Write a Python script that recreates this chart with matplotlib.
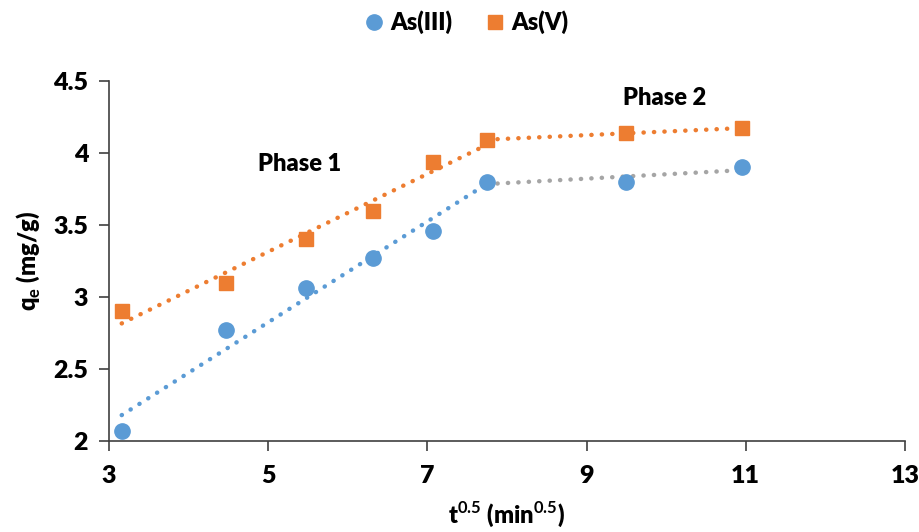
import matplotlib
matplotlib.use("Agg")
import matplotlib.pyplot as plt
import numpy as np

plt.rcParams['font.family'] = ['Lato', 'DejaVu Sans']
plt.rcParams['font.weight'] = 'bold'
plt.rcParams['mathtext.fontset'] = 'custom'
plt.rcParams['mathtext.bf'] = 'Lato:bold'
plt.rcParams['mathtext.rm'] = 'Lato:bold'

# sqrt(t) for t = 10, 20, 30, 40, 50, 60, 90, 120 min
t_sqrt = np.array([3.16, 4.47, 5.48, 6.32, 7.07, 7.75, 9.49, 10.95])
as3 = np.array([2.07, 2.77, 3.06, 3.27, 3.46, 3.80, 3.80, 3.90])
as5 = np.array([2.90, 3.10, 3.40, 3.60, 3.94, 4.09, 4.14, 4.17])

blue = '#5b9bd5'
orange = '#ed7d31'
grey = '#a5a5a5'

fig = plt.figure(figsize=(9.19, 5.32), dpi=100)
ax = fig.add_axes([0.1186, 0.171, 0.866, 0.677])

# trend lines, phase 1 = first 6 points, phase 2 = last 3
p1 = slice(0, 6)
p2 = slice(5, 8)
for y, c1, c2 in [(as3, blue, grey), (as5, orange, orange)]:
    for sl, c in [(p1, c1), (p2, c2)]:
        k, b = np.polyfit(t_sqrt[sl], y[sl], 1)
        xs = t_sqrt[sl]
        ax.plot(xs, k * xs + b, linestyle=(0, (0.05, 2.3)), color=c,
                linewidth=3.2, dash_capstyle='round', zorder=2)

ax.plot(t_sqrt, as3, 'o', color=blue, markersize=11, label='As(III)', zorder=3)
ax.plot(t_sqrt, as5, 's', color=orange, markersize=10, label='As(V)', zorder=3)

ax.set_xlim(3, 13)
ax.set_ylim(2, 4.5)
ax.set_xticks([3, 5, 7, 9, 11, 13])
ax.set_yticks([2, 2.5, 3, 3.5, 4, 4.5])
ax.set_yticklabels(['2', '2.5', '3', '3.5', '4', '4.5'])
ax.spines['top'].set_visible(False)
ax.spines['right'].set_visible(False)
for s in ['left', 'bottom']:
    ax.spines[s].set_color('#404040')
    ax.spines[s].set_linewidth(1.2)
ax.tick_params(axis='both', labelsize=18, length=7, width=1.2, color='#404040')
ax.tick_params(axis='x', pad=10)
ax.tick_params(axis='y', pad=8)
for lab in ax.get_xticklabels() + ax.get_yticklabels():
    lab.set_fontweight('heavy')

ax.set_xlabel('t$^{\\mathbf{0.5}}$ (min$^{\\mathbf{0.5}}$)', fontsize=17, fontweight='heavy', labelpad=9)
ax.set_ylabel('q$_{\\mathbf{e}}$ (mg/g)', fontsize=17, fontweight='heavy', labelpad=8)

ax.text(5.4, 3.92, 'Phase 1', fontsize=17, fontweight='heavy', ha='center', va='center')
ax.text(9.98, 4.38, 'Phase 2', fontsize=17, fontweight='heavy', ha='center', va='center')

fig.legend(*ax.get_legend_handles_labels(), loc='upper center', bbox_to_anchor=(0.505, 1.02),
           ncol=2, frameon=False, prop={'size': 17, 'weight': 'heavy'},
           handletextpad=0.1, columnspacing=1.2, handlelength=1.2)

fig.savefig('out.png', dpi=100)
